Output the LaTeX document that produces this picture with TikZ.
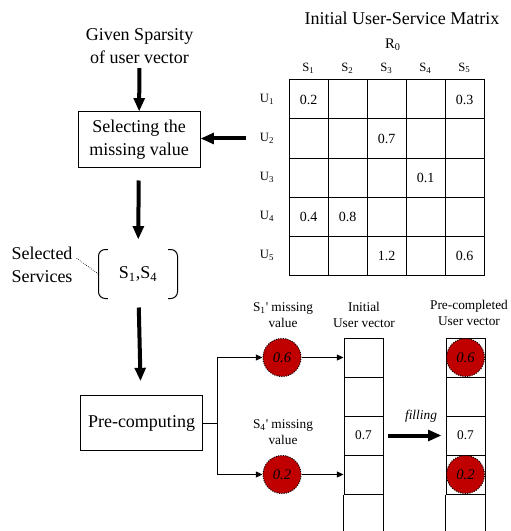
\documentclass[tikz,border=0pt]{standalone}
\usepackage{fontspec}
\setmainfont{Liberation Serif}
\usetikzlibrary{arrows.meta}
\definecolor{circred}{RGB}{192,0,0}

\tikzset{every picture/.style={line width=0.75pt}}
\tikzset{
  bigarrow/.style={line width=3pt,-{Triangle[length=10pt,width=8pt]}},
  thinarrow/.style={-{Triangle[length=5pt,width=4.5pt]}},
  bigtext/.style={inner sep=0.75pt,align=center,font=\fontsize{13.5}{17.5}\selectfont},
  smalltext/.style={inner sep=0.75pt,align=center,font=\fontsize{10}{12}\selectfont},
  mtxtext/.style={inner sep=0.75pt,font=\fontsize{10.5}{12}\selectfont},
  hdrtext/.style={inner sep=0.75pt,font=\fontsize{9.5}{11}\selectfont},
  procbox/.style={draw,minimum width=92pt,minimum height=41pt,bigtext},
  cell/.style={draw,minimum width=29.25pt,minimum height=29.25pt,inner sep=0pt,font=\fontsize{10}{12}\selectfont},
  misscirc/.style={circle,draw,densely dotted,fill=circred,minimum size=28.5pt,inner sep=0pt,font=\fontsize{11}{13}\selectfont\itshape}
}

\begin{document}
\begin{tikzpicture}[x=0.75pt,y=0.75pt,yscale=-1,xscale=1]
\useasboundingbox (0,0) rectangle (510,531);

% Text Node
\draw (139.5,46) node [bigtext,inner sep=3pt] (given) {Given Sparsity\\of user vector};
%Shape: Rectangle
\node [procbox,minimum width=91.5pt,minimum height=41.25pt] (select) at (139,139.5) {Selecting the\\missing value};
% Bracket node
\node [bigtext,minimum width=58.5pt,minimum height=36pt] (sel) at (138,274) {S\textsubscript{1},S\textsubscript{4}};
\draw [rounded corners=5pt] ([xshift=7pt]sel.north west) -- (sel.north west) -- (sel.south west) -- ([xshift=7pt]sel.south west);
\draw [rounded corners=5pt] ([xshift=-7pt]sel.north east) -- (sel.north east) -- (sel.south east) -- ([xshift=-7pt]sel.south east);
% Text Node
\draw (42,265) node [bigtext,align=left] (selsvc) {Selected\\Services};
\draw [densely dotted,line width=0.5pt] ([yshift=-5pt,xshift=2pt]selsvc.east) -- (sel.west);
%Shape: Rectangle
\node [procbox] (pre) at (141.5,423) {Pre-computing};

% Initial User-Service Matrix
\draw (402,18) node [bigtext] (mtitle) {Initial User-Service Matrix};
\draw (393,45) node [inner sep=0.75pt,font=\fontsize{11}{13}\selectfont] (rzero) {R\textsubscript{0}};
\draw (308.5,68) node [hdrtext] (s1) {S\textsubscript{1}};
\draw (347.5,68) node [hdrtext] (s2) {S\textsubscript{2}};
\draw (386.5,68) node [hdrtext] (s3) {S\textsubscript{3}};
\draw (425.5,68) node [hdrtext] (s4) {S\textsubscript{4}};
\draw (464.5,68) node [hdrtext] (s5) {S\textsubscript{5}};
\draw (267,99.5) node [hdrtext] (u1) {U\textsubscript{1}};
\draw (267,138.5) node [hdrtext] (u2) {U\textsubscript{2}};
\draw (267,177.5) node [hdrtext] (u3) {U\textsubscript{3}};
\draw (267,216.5) node [hdrtext] (u4) {U\textsubscript{4}};
\draw (267,255.5) node [hdrtext] (u5) {U\textsubscript{5}};
%Shape: Rectangle
\draw (289,80) -- (484,80) -- (484,275) -- (289,275) -- cycle ;
%Straight Lines
\draw (328,80) -- (328,275) ;
\draw (367,80) -- (367,275) ;
\draw (406,80) -- (406,275) ;
\draw (445,80) -- (445,275) ;
\draw (289,119) -- (484,119) ;
\draw (289,158) -- (484,158) ;
\draw (289,197) -- (484,197) ;
\draw (289,236) -- (484,236) ;
% Matrix values
\draw (308.5,99.5) node [mtxtext] (m11) {0.2};
\draw (464.5,99.5) node [mtxtext] (m15) {0.3};
\draw (386.5,138.5) node [mtxtext] (m23) {0.7};
\draw (425.5,177.5) node [mtxtext] (m34) {0.1};
\draw (308.5,216.5) node [mtxtext] (m41) {0.4};
\draw (347.5,216.5) node [mtxtext] (m42) {0.8};
\draw (386.5,255.5) node [mtxtext] (m53) {1.2};
\draw (464.5,255.5) node [mtxtext] (m55) {0.6};

% Missing values
\draw (283,315) node [smalltext] (c1lbl) {S\textsubscript{1}\textquotesingle{} missing\\value};
\draw (283,432) node [smalltext] (c2lbl) {S\textsubscript{4}\textquotesingle{} missing\\value};
\node [misscirc] (c1) at (282,357.5) {0.6};
\node [misscirc] (c2) at (282,474.5) {0.2};

% Initial user vector
\draw (364,315) node [smalltext] (ivlbl) {Initial\\User vector};
\node [cell] (iv1) at (363.5,357.5) {};
\node [cell] (iv2) at (363.5,396.5) {};
\node [cell] (iv3) at (363.5,435.5) {0.7};
\node [cell] (iv4) at (363.5,474.5) {};
\draw (iv4.south west) -- ++(0,40) ;
\draw (iv4.south east) -- ++(0,40) ;

% Pre-completed user vector
\draw (469,313) node [smalltext] (pvlbl) {Pre-completed\\User vector};
\node [cell] (pv1) at (465.5,357.5) {};
\node [cell] (pv2) at (465.5,396.5) {};
\node [cell] (pv3) at (465.5,435.5) {0.7};
\node [cell] (pv4) at (465.5,474.5) {};
\draw (pv4.south west) -- ++(0,40) ;
\draw (pv4.south east) -- ++(0,40) ;
\node [misscirc] (pc1) at (465.5,357.5) {0.6};
\node [misscirc] (pc2) at (465.5,474.5) {0.2};

% Text Node
\draw (421,416) node [inner sep=0.75pt,font=\fontsize{10}{12}\selectfont\itshape] (filllbl) {filling};

% Connectors
\draw [bigarrow] (given) -- (select);
\draw [bigarrow,shorten <=9pt] (u2.west) -- (u2.west -| select.east);
\draw [bigarrow,shorten <=9.75pt,shorten >=7.5pt] (select) -- (sel);
\draw [bigarrow,shorten <=6.75pt,shorten >=10.5pt] (sel) -- (pre);
\coordinate (fork) at (217,423);
\draw (pre.east) -- (fork);
\draw [thinarrow] (fork) |- (c1.west);
\draw [thinarrow] (fork) |- (c2.west);
\draw [thinarrow] (c1) -- (iv1.west);
\draw [thinarrow] (c2) -- (iv4.west);
\draw [bigarrow,shorten <=3pt,shorten >=3pt] (iv3.east) -- (pv3.west);

\end{tikzpicture}
\end{document}
